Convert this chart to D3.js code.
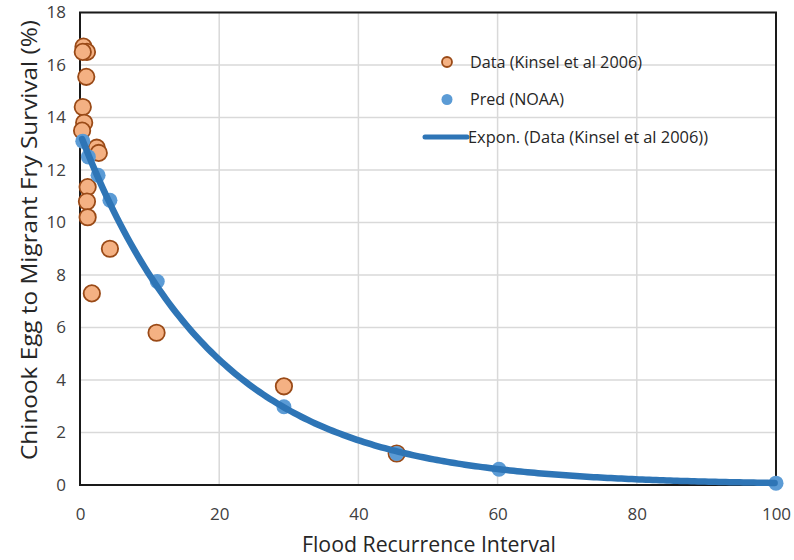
<!doctype html>
<html lang="en">
<head>
    <meta charset="utf-8">
    <title>Chinook egg to fry survival</title>
    <script src="https://d3js.org/d3.v7.min.js"></script>
    <style>
        body { margin: 0; background: #fff; }
        text { font-family: "Open Sans", "Liberation Sans", sans-serif; }
    </style>
</head>
<body>
<script>

    // observed data (Kinsel et al 2006)
    var dataX = [0.5, 1.0, 0.4, 0.9, 0.4, 0.6, 0.3, 2.4, 2.7, 1.1, 1.0, 1.1, 4.3, 1.7, 11.0, 29.3, 45.5];
    var dataY = [16.7, 16.5, 16.5, 15.55, 14.4, 13.8, 13.5, 12.85, 12.65, 11.35, 10.8, 10.2, 9.0, 7.3, 5.8, 3.76, 1.2];

    // predicted (NOAA)
    var predX = [0.4, 1.2, 2.6, 4.3, 11.1, 29.3, 45.5, 60.2, 100];
    var predY = [13.1, 12.5, 11.8, 10.85, 7.75, 2.98, 1.2, 0.6, 0.07];

    var xTicks = [0, 20, 40, 60, 80, 100];
    var yTicks = [0, 2, 4, 6, 8, 10, 12, 14, 16, 18];

    var legendLabels = ["Data (Kinsel et al 2006)", "Pred (NOAA)", "Expon. (Data (Kinsel et al 2006))"];
    var legendWidths = [172, 94, 240];

    var W = 794, H = 560;
    var margin = {top: 12.5, right: 18, bottom: 75, left: 80},
        width = W - margin.left - margin.right,
        height = H - margin.top - margin.bottom;

    var x = d3.scaleLinear().domain([0, 100]).range([0, width]);
    var y = d3.scaleLinear().domain([0, 18]).range([height, 0]);

    var svg = d3.select("body").append("svg")
        .attr("width", W)
        .attr("height", H);

    var g = svg.append("g")
        .attr("transform", "translate(" + margin.left + "," + margin.top + ")");

    // grid lines
    g.selectAll(".gx").data(xTicks).enter().append("line")
        .attr("x1", d => x(d)).attr("x2", d => x(d))
        .attr("y1", 0).attr("y2", height)
        .attr("stroke", "#d9d9d9").attr("stroke-width", 1.5);
    g.selectAll(".gy").data(yTicks).enter().append("line")
        .attr("x1", 0).attr("x2", width)
        .attr("y1", d => y(d)).attr("y2", d => y(d))
        .attr("stroke", "#d9d9d9").attr("stroke-width", 1.5);

    // axes (labels only)
    var xAxis = g.append("g")
        .attr("transform", "translate(0," + height + ")")
        .call(d3.axisBottom(x).tickValues(xTicks).tickSize(0).tickPadding(23));
    var yAxis = g.append("g")
        .call(d3.axisLeft(y).tickValues(yTicks).tickSize(0).tickPadding(14));
    [xAxis, yAxis].forEach(function(a) {
        a.select(".domain").remove();
        a.selectAll("text").attr("font-size", 17).attr("fill", "#404040")
            .style("font-family", "'Open Sans', sans-serif");
    });

    // frame
    g.append("rect")
        .attr("x", 0).attr("y", 0)
        .attr("width", width).attr("height", height)
        .attr("fill", "none").attr("stroke", "#1a1a1a").attr("stroke-width", 2);

    // exponential trend line: least squares fit of ln(y) on x
    var n = dataX.length;
    var mx = d3.mean(dataX), my = d3.mean(dataY.map(Math.log));
    var sxy = 0, sxx = 0;
    for (var i = 0; i < n; i++) {
        sxy += (dataX[i] - mx) * (Math.log(dataY[i]) - my);
        sxx += (dataX[i] - mx) * (dataX[i] - mx);
    }
    var b = sxy / sxx, a = Math.exp(my - b * mx);
    var trend = d3.range(d3.min(dataX), 100.01, 0.5).map(function(t) { return [t, a * Math.exp(b * t)]; });

    // data points
    g.selectAll(".obs").data(dataX).enter().append("circle")
        .attr("cx", d => x(d))
        .attr("cy", (d, i) => y(dataY[i]))
        .attr("r", 8.2)
        .attr("fill", "#f4b183")
        .attr("stroke", "#9a4a17")
        .attr("stroke-width", 1.8);

    g.selectAll(".pred").data(predX).enter().append("circle")
        .attr("cx", d => x(d))
        .attr("cy", (d, i) => y(predY[i]))
        .attr("r", 7.5)
        .attr("fill", "#5b9bd5");

    g.append("path")
        .datum(trend)
        .attr("fill", "none")
        .attr("stroke", "#2e75b6")
        .attr("stroke-width", 6.5)
        .attr("stroke-linecap", "round")
        .attr("d", d3.line().x(d => x(d[0])).y(d => y(d[1])));

    // legend
    var leg = svg.append("g").attr("transform", "translate(447,62)");
    leg.append("circle").attr("cx", 0).attr("cy", 0).attr("r", 5)
        .attr("fill", "#f4b183").attr("stroke", "#9a4a17").attr("stroke-width", 1.8);
    leg.append("circle").attr("cx", 0).attr("cy", 37.5).attr("r", 5.5)
        .attr("fill", "#5b9bd5");
    leg.append("line").attr("x1", -22).attr("x2", 20).attr("y1", 75).attr("y2", 75)
        .attr("stroke", "#2e75b6").attr("stroke-width", 5).attr("stroke-linecap", "round");
    leg.selectAll(".lt").data(legendLabels).enter().append("text")
        .attr("x", (d, i) => i == 2 ? 21 : 23)
        .attr("y", (d, i) => i * 37.5)
        .attr("dy", "0.35em")
        .attr("font-size", 17)
        .attr("textLength", (d, i) => legendWidths[i])
        .attr("lengthAdjust", "spacingAndGlyphs")
        .attr("fill", "#262626")
        .text(d => d);

    // axis titles
    svg.append("text")
        .attr("x", 429)
        .attr("y", 552)
        .attr("text-anchor", "middle")
        .attr("font-size", 21)
        .attr("textLength", 254)
        .attr("lengthAdjust", "spacingAndGlyphs")
        .attr("fill", "#262626")
        .text("Flood Recurrence Interval");

    svg.append("text")
        .attr("transform", "translate(37,240) rotate(-90)")
        .attr("text-anchor", "middle")
        .attr("font-size", 21)
        .attr("textLength", 440)
        .attr("lengthAdjust", "spacingAndGlyphs")
        .attr("fill", "#262626")
        .text("Chinook Egg to Migrant Fry Survival (%)");

</script>
</body>
</html>
